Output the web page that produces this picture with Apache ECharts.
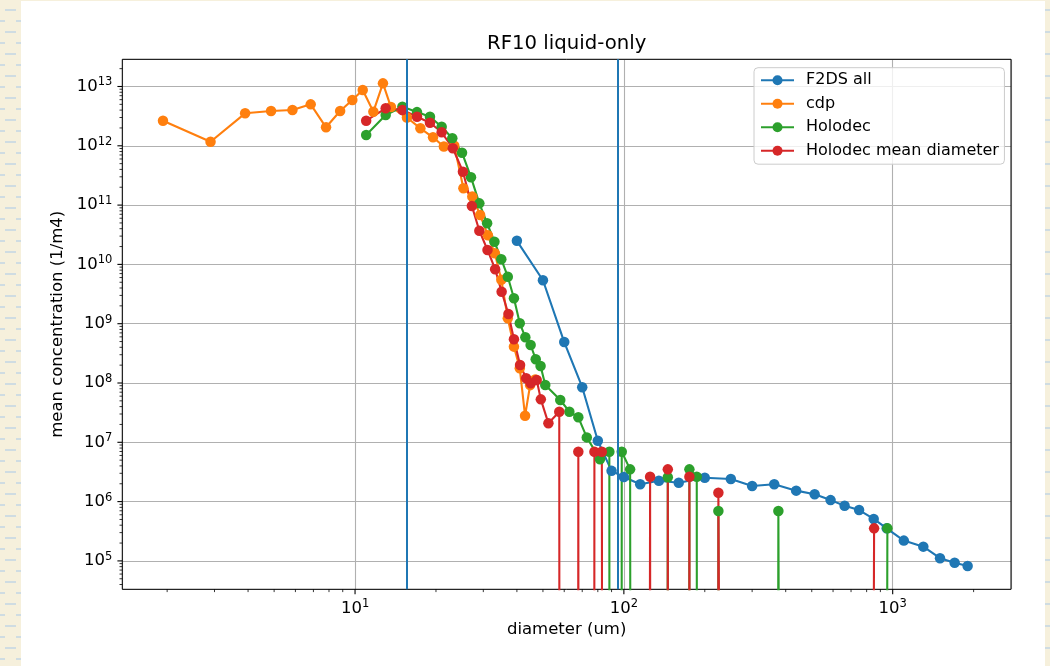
<!DOCTYPE html>
<html>
<head>
<meta charset="utf-8">
<title>RF10 liquid-only</title>
<script src="https://cdn.jsdelivr.net/npm/echarts@6/dist/echarts.min.js"></script>
<style>
  html, body { margin: 0; padding: 0; width: 1050px; height: 666px; overflow: hidden; }
  body {
    background-color: #f6f0dc;
    background-image: url("data:image/svg+xml;utf8,<svg xmlns='http://www.w3.org/2000/svg' width='22' height='22'><rect x='5' y='9' width='11' height='2' fill='%23cfdce2'/><rect x='16' y='20' width='6' height='2' fill='%23cfdce2'/><rect x='0' y='20' width='5' height='2' fill='%23cfdce2'/></svg>");
  }
  #fig { position: absolute; left: 21px; top: 1px; width: 1024px; height: 665px; background: #ffffff; }
</style>
</head>
<body>
<div id="fig"></div>
<script>
// ---- data: diameter (um) and mean concentration (1/m4) per instrument ----
const f2dsDiam = [40, 50, 60, 70, 80, 90, 100, 115, 135, 160, 200, 250, 300, 362.5, 437.5, 512.5,
                  587.5, 662.5, 750, 850, 950, 1100, 1300, 1500, 1700, 1900];
const f2dsConc = [2.5e10, 5.4e9, 4.9e8, 8.5e7, 1.06e7, 3.3e6, 2.6e6, 1.96e6, 2.25e6, 2.08e6, 2.53e6, 2.4e6,
                  1.83e6, 1.96e6, 1.53e6, 1.33e6, 1.06e6, 8.5e5, 7.2e5, 5.1e5, 3.55e5, 2.2e5, 1.74e5,
                  1.11e5, 9.3e4, 8.2e4];

const cdpDiam = [1.93, 2.9, 3.9, 4.87, 5.85, 6.84, 7.8, 8.8, 9.77, 10.68, 11.7, 12.7, 13.6, 15.6, 17.5,
                 19.5, 21.4, 23.4, 25.3, 27.3, 29.2, 31.2, 33.1, 35, 37, 39, 41, 42.9, 44.8, 46.8];
const cdpConc = [2.65e12, 1.17e12, 3.53e12, 3.86e12, 4.02e12, 5.0e12, 2.05e12, 3.86e12, 5.9e12, 8.7e12,
                 3.76e12, 1.13e13, 4.5e12, 3.0e12, 1.97e12, 1.39e12, 9.7e11, 1.0e12, 1.92e11, 1.39e11,
                 6.8e10, 3.1e10, 1.54e10, 5.5e9, 1.23e9, 4.1e8, 1.77e8, 2.8e7, 9.2e7, 1.15e8];

// Holodec bins; a zero marks an empty bin
const holoDiam = [11, 13, 15, 17, 19, 21, 23, 25, 27, 29, 31, 33, 35, 37, 39, 41, 43, 45, 47, 49, 51,
                  58, 62.7, 67.7, 72.8, 81.5, 88.3, 93, 98.2, 105.5, 125, 145.7, 160, 175.3, 186.7,
                  205, 224.7, 300, 375.6, 650, 955.6];
const holoConc = [1.52e12, 3.31e12, 4.56e12, 3.7e12, 3.09e12, 2.1e12, 1.34e12, 7.65e11, 2.94e11, 1.07e11,
                  4.93e10, 2.41e10, 1.22e10, 6.2e9, 2.68e9, 1.02e9, 5.9e8, 4.37e8, 2.51e8, 1.94e8, 9.25e7,
                  5.17e7, 3.28e7, 2.64e7, 1.21e7, 5.17e6, 6.94e6, 0, 6.94e6, 3.5e6, 0, 2.57e6, 0,
                  3.5e6, 2.63e6, 0, 6.94e5, 0, 6.94e5, 0, 3.54e5];

const holoMeanDiam = [11, 13, 15, 17, 19, 21, 23.1, 25.2, 27.2, 29, 31.1, 33.2, 35.1, 37.2, 39, 41.1,
                      43.3, 45, 47.4, 49.1, 52.4, 57.5, 62, 67.7, 72, 77.7, 82.8, 100, 125.2, 135,
                      145.7, 160, 175.3, 200, 224.7, 500, 852.8];
const holoMeanConc = [2.65e12, 4.29e12, 4.02e12, 3.09e12, 2.45e12, 1.69e12, 9.1e11, 3.66e11, 9.65e10,
                      3.7e10, 1.75e10, 8.3e9, 3.46e9, 1.46e9, 5.46e8, 2.01e8, 1.2e8, 9.9e7, 1.12e8,
                      5.3e7, 2.09e7, 3.28e7, 0, 6.94e6, 0, 6.94e6, 6.94e6, 0, 2.63e6, 0, 3.5e6, 0,
                      2.63e6, 0, 1.41e6, 0, 3.54e5];

// instrument size limits (um)
const limitDiam = [15.6, 95];

// axis extents
const xRange = [1.362, 2755];
const yRange = [3.32e4, 2.875e13];

// ---- helpers ----
const FONT = "'DejaVu Sans', sans-serif";
const ZERO_FLOOR = 1e-300; // empty bins drop straight through the floor of the log axis
const C = { blue: '#1f77b4', orange: '#ff7f0e', green: '#2ca02c', red: '#d62728' };

function pairs(xs, ys) {
  return xs.map((x, i) => [x, ys[i] > 0 ? ys[i] : ZERO_FLOOR]);
}

function isDecade(v) {
  const e = Math.log10(v);
  return Math.abs(e - Math.round(e)) < 1e-6;
}

function powLabel(v) {
  if (!isDecade(v)) return '';
  return '{b|10}{e|' + Math.round(Math.log10(v)) + '}';
}

const richPow = {
  b: { fontSize: 16.5, lineHeight: 20, fontFamily: FONT, color: '#000' },
  e: { fontSize: 11.5, lineHeight: 11.5, verticalAlign: 'top', fontFamily: FONT, color: '#000' }
};

// major and minor tick positions (1..9 x 10^n) inside an extent
function logTicks(range) {
  const out = [];
  for (let e = Math.floor(Math.log10(range[0])); e <= Math.ceil(Math.log10(range[1])); e++) {
    for (let m = 1; m <= 9; m++) {
      const v = m * Math.pow(10, e);
      if (v >= range[0] && v <= range[1]) out.push(v);
    }
  }
  return out;
}

function lineSeries(name, color, xs, ys, extra) {
  return Object.assign({
    name: name,
    type: 'line',
    data: pairs(xs, ys),
    symbol: 'circle',
    symbolSize: 10.5,
    lineStyle: { color: color, width: 2.1 },
    itemStyle: { color: color, borderWidth: 0 },
    emphasis: { disabled: true },
    clip: true,
    animation: false,
    z: 2
  }, extra || {});
}

// outward tick marks drawn along the bottom (dim 0) or left (dim 1) edge of the plot
function tickSeries(dim, values) {
  return {
    type: 'custom',
    silent: true,
    clip: false,
    animation: false,
    z: 3,
    data: values.map(v => dim === 0 ? [v, yRange[0]] : [xRange[0], v]),
    renderItem: function (params, api) {
      const cs = params.coordSys;
      const v = api.value(dim);
      const major = isDecade(v);
      const len = major ? 4.9 : 2.8;
      const lw = major ? 1.1 : 0.8;
      let shape;
      if (dim === 0) {
        const px = api.coord([v, yRange[0]])[0];
        const y0 = cs.y + cs.height;
        shape = { x1: px, y1: y0, x2: px, y2: y0 + len };
      } else {
        const py = api.coord([xRange[0], v])[1];
        shape = { x1: cs.x, y1: py, x2: cs.x - len, y2: py };
      }
      return { type: 'line', shape: shape, style: { stroke: '#000', lineWidth: lw } };
    }
  };
}

// ---- chart ----
const chart = echarts.init(document.getElementById('fig'), null, { renderer: 'canvas' });

chart.setOption({
  animation: false,
  backgroundColor: '#ffffff',
  title: {
    text: 'RF10 liquid-only',
    left: 545.7,
    top: 32.5,
    textAlign: 'center',
    padding: 0,
    textStyle: { fontSize: 19.7, fontWeight: 'normal', fontFamily: FONT, color: '#000', lineHeight: 20 }
  },
  grid: {
    left: 101.3, top: 58.3, width: 888.7, height: 530,
    show: true, borderColor: '#000', borderWidth: 1, backgroundColor: 'transparent', z: 1
  },
  legend: {
    data: ['F2DS all', 'cdp', 'Holodec', 'Holodec mean diameter'],
    orient: 'vertical',
    left: 733,
    top: 66.7,
    itemWidth: 33,
    itemHeight: 12.5,
    itemGap: 6.5,
    padding: [4, 5.5, 5, 6],
    backgroundColor: 'rgba(255,255,255,0.8)',
    borderColor: '#cccccc',
    borderWidth: 1,
    borderRadius: 4,
    selectedMode: false,
    textStyle: { fontSize: 16, fontFamily: FONT, color: '#000', lineHeight: 17, padding: [0, 0, 0, 7] },
    z: 10
  },
  xAxis: {
    type: 'log',
    logBase: 10,
    min: xRange[0],
    max: xRange[1],
    axisLine: { show: false },
    axisTick: { show: false },
    minorTick: { show: false },
    splitLine: { show: true, lineStyle: { color: '#b0b0b0', width: 1.1 } },
    axisLabel: { formatter: powLabel, rich: richPow, margin: 9 },
    name: 'diameter (um)',
    nameLocation: 'middle',
    nameGap: 32.5,
    nameTextStyle: { fontSize: 16.5, fontFamily: FONT, color: '#000', lineHeight: 16.5 }
  },
  yAxis: {
    type: 'log',
    logBase: 10,
    min: yRange[0],
    max: yRange[1],
    axisLine: { show: false },
    axisTick: { show: false },
    minorTick: { show: false },
    splitLine: { show: true, lineStyle: { color: '#b0b0b0', width: 1.1 } },
    axisLabel: { formatter: powLabel, rich: richPow, margin: 10 },
    name: 'mean concentration (1/m4)',
    nameLocation: 'middle',
    nameGap: 47,
    nameTextStyle: { fontSize: 16.5, fontFamily: FONT, color: '#000', lineHeight: 16.5 }
  },
  series: [
    lineSeries('F2DS all', C.blue, f2dsDiam, f2dsConc),
    lineSeries('cdp', C.orange, cdpDiam, cdpConc),
    lineSeries('Holodec', C.green, holoDiam, holoConc),
    lineSeries('Holodec mean diameter', C.red, holoMeanDiam, holoMeanConc, {
      markLine: {
        silent: true,
        animation: false,
        symbol: ['none', 'none'],
        label: { show: false },
        emphasis: { disabled: true },
        lineStyle: { color: C.blue, width: 2, type: 'solid' },
        data: limitDiam.map(d => ({ xAxis: d }))
      }
    }),
    tickSeries(0, logTicks(xRange)),
    tickSeries(1, logTicks(yRange))
  ]
});
</script>
</body>
</html>
